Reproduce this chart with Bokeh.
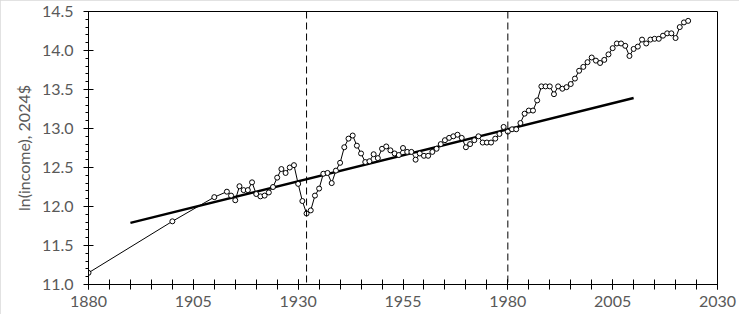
from bokeh.plotting import figure
from bokeh.models import FixedTicker, NumeralTickFormatter, Span, Range1d
from bokeh.embed import file_html
from bokeh.resources import INLINE

years = [1880, 1900, 1910, 1913, 1914, 1915, 1916, 1917, 1918, 1919,
         1920, 1921, 1922, 1923, 1924, 1925, 1926, 1927, 1928, 1929,
         1930, 1931, 1932, 1933, 1934, 1935, 1936, 1937, 1938, 1939,
         1940, 1941, 1942, 1943, 1944, 1945, 1946, 1947, 1948, 1949,
         1950, 1951, 1952, 1953, 1954, 1955, 1956, 1957, 1958, 1959,
         1960, 1961, 1962, 1963, 1964, 1965, 1966, 1967, 1968, 1969,
         1970, 1971, 1972, 1973, 1974, 1975, 1976, 1977, 1978, 1979,
         1980, 1981, 1982, 1983, 1984, 1985, 1986, 1987, 1988, 1989,
         1990, 1991, 1992, 1993, 1994, 1995, 1996, 1997, 1998, 1999,
         2000, 2001, 2002, 2003, 2004, 2005, 2006, 2007, 2008, 2009,
         2010, 2011, 2012, 2013, 2014, 2015, 2016, 2017, 2018, 2019,
         2020, 2021, 2022, 2023]
ln_income = [11.15, 11.81, 12.12, 12.19, 12.14, 12.08, 12.26, 12.21, 12.21, 12.31,
             12.16, 12.13, 12.14, 12.18, 12.25, 12.37, 12.48, 12.43, 12.50, 12.53,
             12.29, 12.07, 11.91, 11.95, 12.14, 12.23, 12.42, 12.43, 12.30, 12.46,
             12.56, 12.76, 12.87, 12.91, 12.78, 12.68, 12.57, 12.58, 12.67, 12.62,
             12.74, 12.77, 12.72, 12.68, 12.66, 12.75, 12.70, 12.70, 12.60, 12.68,
             12.65, 12.65, 12.70, 12.74, 12.80, 12.85, 12.88, 12.90, 12.92, 12.88,
             12.76, 12.80, 12.85, 12.90, 12.82, 12.82, 12.82, 12.87, 12.93, 13.02,
             12.96, 12.99, 12.99, 13.07, 13.19, 13.23, 13.23, 13.36, 13.54, 13.54,
             13.54, 13.44, 13.54, 13.51, 13.53, 13.57, 13.64, 13.74, 13.79, 13.85,
             13.91, 13.87, 13.84, 13.88, 13.95, 14.03, 14.09, 14.09, 14.06, 13.93,
             14.02, 14.05, 14.14, 14.09, 14.14, 14.15, 14.15, 14.19, 14.22, 14.22,
             14.16, 14.30, 14.36, 14.38]

trend_years = [1890, 2010]
trend_values = [11.79, 13.39]

break_years = [1932, 1980]

x_ticks = [1880, 1905, 1930, 1955, 1980, 2005, 2030]
x_minor = list(range(1880, 2031, 5))
y_ticks = [11.0, 11.5, 12.0, 12.5, 13.0, 13.5, 14.0, 14.5]
y_minor = [round(11.0 + 0.1 * i, 1) for i in range(36)]

FONT = "Lato"
GREY = "#595959"

p = figure(width=739, height=314, output_backend="svg", toolbar_location=None,
           x_range=Range1d(1880, 2030), y_range=Range1d(11.0, 14.5),
           min_border_left=88, min_border_right=22, min_border_top=11,
           min_border_bottom=30)
p.styles = {"outline": "1px solid #d9d9d9", "outline-offset": "-1px"}

p.xgrid.visible = False
p.ygrid.visible = False
p.outline_line_color = "black"
p.outline_line_width = 1

xa = p.xaxis[0]
xa.ticker = FixedTicker(ticks=x_ticks, minor_ticks=x_minor)
xa.formatter = NumeralTickFormatter(format="0")
xa.major_tick_in = 5
xa.major_tick_out = 5
xa.minor_tick_in = 5
xa.minor_tick_out = 5
xa.major_tick_line_color = "black"
xa.minor_tick_line_color = "black"
xa.axis_line_color = "black"
xa.major_label_text_font = FONT
xa.major_label_text_font_size = "16px"
xa.major_label_text_color = GREY
xa.major_label_standoff = 6

ya = p.yaxis[0]
ya.ticker = FixedTicker(ticks=y_ticks, minor_ticks=y_minor)
ya.formatter = NumeralTickFormatter(format="0.0")
ya.major_tick_in = 5
ya.major_tick_out = 5
ya.minor_tick_in = 0
ya.minor_tick_out = 3
ya.major_tick_line_color = "black"
ya.minor_tick_line_color = "black"
ya.axis_line_color = "black"
ya.major_label_text_font = FONT
ya.major_label_text_font_size = "16px"
ya.major_label_text_color = GREY
ya.major_label_standoff = 10
ya.axis_label = "ln(income), 2024$"
ya.axis_label_text_font = FONT
ya.axis_label_text_font_size = "16px"
ya.axis_label_text_font_style = "normal"
ya.axis_label_text_color = GREY
ya.axis_label_standoff = 6

for yr in break_years:
    p.add_layout(Span(location=yr, dimension="height", line_color="black",
                      line_width=1, line_dash="7 4"))

p.line(trend_years, trend_values, line_color="black", line_width=2.5)
p.line(years, ln_income, line_color="black", line_width=1)
p.scatter(years, ln_income, size=5, fill_color="white", line_color="black",
          line_width=1)

open("out.html", "w").write(file_html(p, INLINE))
